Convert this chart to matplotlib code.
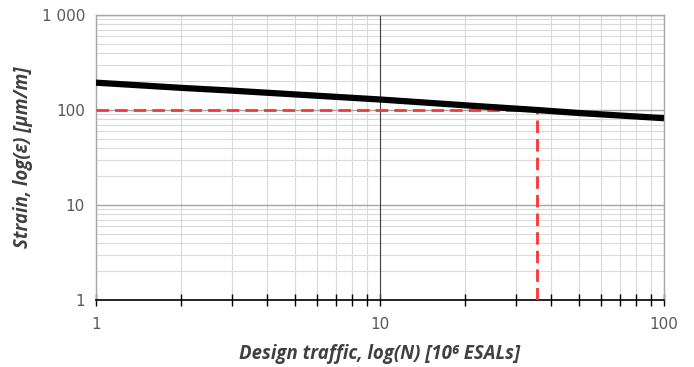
import matplotlib
matplotlib.use("Agg")
import matplotlib.pyplot as plt
from matplotlib.ticker import FixedLocator, NullFormatter, FixedFormatter

traffic = [1, 2, 3, 5, 10, 20, 35.7, 50, 100]
strain = [194, 171, 160, 146, 129, 112, 100, 93, 82]
design_strain = 100
design_traffic = 35.7

fig = plt.figure(figsize=(6.94, 3.67), dpi=100)
ax = fig.add_axes([96/694, 67/367, 568/694, 285/367])
ax.set_xscale("log")
ax.set_yscale("log")
ax.set_xlim(1, 100)
ax.set_ylim(1, 1000)

minor = [m * 10**e for e in range(0, 3) for m in range(2, 10)]
ax.xaxis.set_minor_locator(FixedLocator([v for v in minor if v < 100]))
ax.yaxis.set_minor_locator(FixedLocator([v for v in minor if v < 1000]))
ax.xaxis.set_minor_formatter(NullFormatter())
ax.yaxis.set_minor_formatter(NullFormatter())
ax.xaxis.set_major_locator(FixedLocator([1, 10, 100]))
ax.yaxis.set_major_locator(FixedLocator([1, 10, 100, 1000]))
ax.xaxis.set_major_formatter(FixedFormatter(["1", "10", "100"]))
ax.yaxis.set_major_formatter(FixedFormatter(["1", "10", "100", "1 000"]))

ax.grid(which="minor", color="#d9d9d9", linewidth=0.8)
ax.grid(which="major", axis="y", color="#a6a6a6", linewidth=1.0)
ax.grid(which="major", axis="x", color="#d9d9d9", linewidth=0.8)
ax.axvline(10, color="#404040", linewidth=0.8, zorder=1)
ax.set_axisbelow(True)

for s in ["left", "top", "right"]:
    ax.spines[s].set_color("#a6a6a6")
    ax.spines[s].set_linewidth(1.0)
ax.spines["bottom"].set_color("#000000")
ax.spines["bottom"].set_linewidth(1.2)

ax.tick_params(axis="y", which="both", length=0, labelsize=11, labelcolor="#595959", pad=8)
ax.tick_params(axis="x", which="major", direction="inout", length=8, width=1, color="black",
               labelsize=11, labelcolor="#595959", pad=8)
ax.tick_params(axis="x", which="minor", direction="inout", length=8, width=1, color="black")

ax.plot([1, design_traffic], [design_strain, design_strain], color="#ff3333",
        linewidth=2.0, dashes=(4.5, 2.2), zorder=3)
ax.plot([design_traffic, design_traffic], [1, design_strain], color="#ff3333",
        linewidth=2.0, dashes=(4.5, 2.2), zorder=3)
ax.plot(traffic, strain, color="black", linewidth=4.5, solid_capstyle="butt", zorder=4)

font = dict(fontsize=13.4, fontweight="bold", fontstyle="italic", color="#404040", family="Open Sans")
ax.set_xlabel("Design traffic, log(N) [10\u2076 ESALs]", labelpad=9, **font)
ax.set_ylabel("Strain, log(\u03b5) [\u03bcm/m]", labelpad=6, **font)

fig.savefig("out.png", dpi=100)
